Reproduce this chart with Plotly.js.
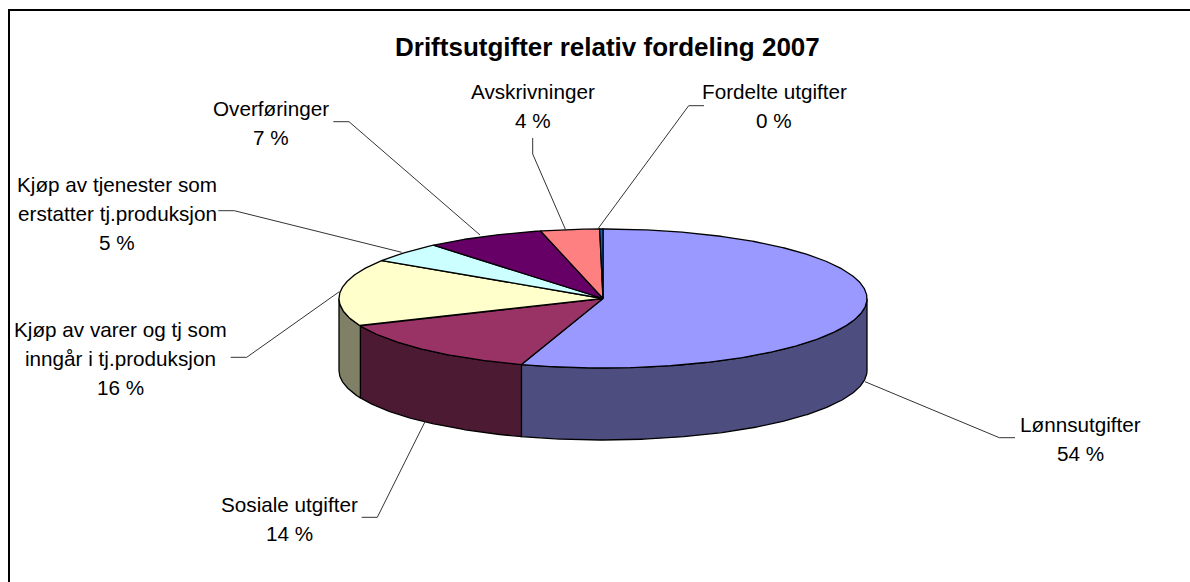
<!DOCTYPE html>
<html>
<head>
<meta charset="utf-8">
<script src="https://cdn.plot.ly/plotly-3.0.1.min.js"></script>
<style>html,body{margin:0;padding:0;background:#fff;overflow:hidden}#c{width:1190px;height:582px}</style>
</head>
<body>
<div id="c"></div>
<script>
const chartTitle = 'Driftsutgifter relativ fordeling 2007';
const categories = ['Lønnsutgifter', 'Sosiale utgifter', 'Kjøp av varer og tj som inngår i tj.produksjon',
  'Kjøp av tjenester som erstatter tj.produksjon', 'Overføringer', 'Avskrivninger', 'Fordelte utgifter'];
const sliceShares = [55.0, 13.55, 15.65, 4.7, 7.3, 3.6, 0.2];
const percentLabels = ['54 %', '14 %', '16 %', '5 %', '7 %', '4 %', '0 %'];
const topColors = ['#9999FF', '#993366', '#FFFFCC', '#CCFFFF', '#660066', '#FF8080', '#0066CC'];
const sideColors = ['#4D4D80', '#4D1A33', '#808066', '#668080', '#330033', '#804040', '#003366'];

// Label text lines, drawn at [x centre, y centre] on the pixel-like axes
const labelLayout = [
  {lines: ['Lønnsutgifter'], x: 1080, y: 424},
  {lines: ['Sosiale utgifter'], x: 289, y: 504},
  {lines: ['Kjøp av varer og tj som', 'inngår i tj.produksjon'], x: 120.5, y: 329},
  {lines: ['Kjøp av tjenester som', 'erstatter tj.produksjon'], x: 117, y: 184},
  {lines: ['Overføringer'], x: 271, y: 108},
  {lines: ['Avskrivninger'], x: 533, y: 91},
  {lines: ['Fordelte utgifter'], x: 774, y: 91}
];
const lineStep = 29;
const leaders = [
  [[1015, 437.7], [999.3, 437.7], [865, 381.7]],
  [[361.7, 517.3], [377.3, 517.3], [425, 421.7]],
  [[230.7, 357.3], [246.7, 357.3], [339.3, 291.7]],
  [[218.3, 210.7], [234.3, 210.7], [401.7, 252.3]],
  [[333.3, 121.7], [349, 121.7], [480, 235]],
  [[532.7, 138], [532.7, 154], [566, 230.7]],
  [[704, 105.7], [688.7, 105.7], [598.3, 228.3]]
];

const pie = {cx: 603, cy: 298.5, rx: 264, ry: 69.5, depth: 72};
const total = sliceShares.reduce((a, b) => a + b, 0);
const edge = [0];
sliceShares.forEach((v, i) => edge.push(edge[i] + v / total * 360));
const px = t => pie.cx + pie.rx * Math.sin(t * Math.PI / 180);
const py = t => pie.cy - pie.ry * Math.cos(t * Math.PI / 180);
function arc(a, b) {
  const n = Math.max(2, Math.ceil(Math.abs(b - a) * 2)), out = [];
  for (let k = 0; k <= n; k++) out.push(a + (b - a) * k / n);
  return out;
}
const lineStyle = {color: '#000', width: 1.3};
const traces = [];
// side walls: only the front half (90..270 degrees) is visible
categories.forEach((c, i) => {
  const a = Math.max(edge[i], 90), b = Math.min(edge[i + 1], 270);
  if (b <= a) return;
  const ts = arc(a, b);
  const x = ts.map(px).concat(ts.slice().reverse().map(px));
  const y = ts.map(py).concat(ts.slice().reverse().map(t => py(t) + pie.depth));
  x.push(x[0]); y.push(y[0]);
  traces.push({type: 'scatter', mode: 'lines', x, y, fill: 'toself', fillcolor: sideColors[i], line: lineStyle, hoverinfo: 'skip', name: c + ' side'});
});
// top faces
categories.forEach((c, i) => {
  const ts = arc(edge[i], edge[i + 1]);
  const x = [pie.cx].concat(ts.map(px), [pie.cx]);
  const y = [pie.cy].concat(ts.map(py), [pie.cy]);
  traces.push({type: 'scatter', mode: 'lines', x, y, fill: 'toself', fillcolor: topColors[i], line: lineStyle, hoverinfo: 'skip', name: c});
});
// leader lines
leaders.forEach((l, i) => {
  traces.push({type: 'scatter', mode: 'lines', x: l.map(p => p[0]), y: l.map(p => p[1]),
    line: {color: '#333', width: 1}, hoverinfo: 'skip', name: categories[i] + ' leader'});
});

const font = {family: '"Liberation Sans", Arial, sans-serif', size: 20.7, color: '#000'};
const annotations = [];
labelLayout.forEach((l, i) => {
  l.lines.concat([percentLabels[i]]).forEach((t, k) => {
    annotations.push({xref: 'x', yref: 'y', x: l.x, y: l.y + k * lineStep, text: t, showarrow: false,
      xanchor: 'center', yanchor: 'middle', font});
  });
});
annotations.push({xref: 'x', yref: 'y', x: 607, y: 47, text: '<b>' + chartTitle + '</b>', showarrow: false,
  xanchor: 'center', yanchor: 'middle', font: {family: font.family, size: 26, color: '#000'}});

const frame = {color: '#000', width: 2};
const layout = {
  width: 1190, height: 582, margin: {l: 0, r: 0, t: 0, b: 0},
  paper_bgcolor: '#fff', plot_bgcolor: '#fff', showlegend: false,
  xaxis: {range: [0, 1190], visible: false, fixedrange: true},
  yaxis: {range: [582, 0], visible: false, fixedrange: true},
  shapes: [
    {type: 'line', xref: 'x', yref: 'y', x0: 9, x1: 9, y0: 9, y1: 582, line: frame},
    {type: 'line', xref: 'x', yref: 'y', x0: 8, x1: 1190, y0: 10, y1: 10, line: frame}
  ],
  annotations
};
Plotly.newPlot('c', traces, layout, {displayModeBar: false, responsive: false});
</script>
</body>
</html>
